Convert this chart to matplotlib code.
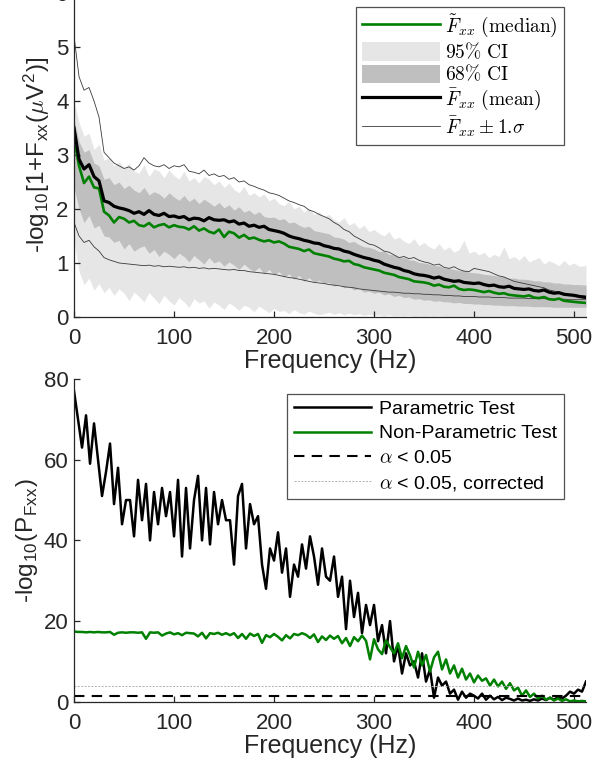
import numpy as np
import matplotlib.pyplot as plt
from matplotlib.patches import Patch
from matplotlib.lines import Line2D

plt.rcParams['font.family'] = ['Liberation Sans', 'DejaVu Sans']
plt.rcParams['mathtext.fontset'] = 'cm'

# ---- top panel data (5 Hz grid, last point 512 Hz) ----
freq_top = np.append(np.arange(0, 510, 5), 512)

mean_fxx = [3.50, 2.92, 2.74, 2.82, 2.60, 2.52, 2.15, 2.12, 2.05, 2.02,
            2.00, 1.97, 1.92, 1.95, 1.90, 1.97, 1.90, 1.88, 1.92, 1.86,
            1.87, 1.84, 1.86, 1.80, 1.83, 1.82, 1.78, 1.84, 1.80, 1.79,
            1.80, 1.76, 1.78, 1.72, 1.74, 1.68, 1.70, 1.66, 1.68, 1.62,
            1.60, 1.58, 1.55, 1.50, 1.47, 1.45, 1.42, 1.40, 1.37, 1.36,
            1.32, 1.30, 1.27, 1.26, 1.22, 1.20, 1.16, 1.13, 1.10, 1.08,
            1.05, 1.03, 0.98, 0.95, 0.92, 0.90, 0.86, 0.84, 0.80, 0.78,
            0.77, 0.75, 0.72, 0.74, 0.70, 0.68, 0.66, 0.67, 0.64, 0.63,
            0.62, 0.63, 0.60, 0.58, 0.59, 0.56, 0.55, 0.57, 0.53, 0.52,
            0.51, 0.52, 0.49, 0.48, 0.50, 0.46, 0.44, 0.45, 0.42, 0.41,
            0.40, 0.38, 0.36]

median_fxx = [3.30, 2.80, 2.48, 2.60, 2.40, 2.38, 1.95, 1.88, 1.75, 1.85,
              1.82, 1.75, 1.78, 1.70, 1.68, 1.74, 1.66, 1.70, 1.72, 1.66,
              1.70, 1.67, 1.66, 1.62, 1.68, 1.60, 1.64, 1.58, 1.55, 1.62,
              1.48, 1.58, 1.55, 1.47, 1.52, 1.45, 1.47, 1.43, 1.40, 1.42,
              1.38, 1.40, 1.36, 1.30, 1.28, 1.26, 1.22, 1.25, 1.18, 1.16,
              1.14, 1.12, 1.08, 1.06, 1.03, 1.04, 0.98, 0.96, 0.92, 0.90,
              0.88, 0.86, 0.82, 0.80, 0.78, 0.74, 0.72, 0.70, 0.66, 0.65,
              0.64, 0.62, 0.58, 0.60, 0.56, 0.55, 0.58, 0.52, 0.50, 0.51,
              0.50, 0.48, 0.46, 0.48, 0.45, 0.43, 0.44, 0.41, 0.40, 0.39,
              0.38, 0.40, 0.36, 0.35, 0.37, 0.33, 0.32, 0.34, 0.30, 0.29,
              0.28, 0.27, 0.26]

sd_upper = [5.20, 4.45, 4.20, 4.25, 4.00, 3.70, 3.05, 2.95, 2.85, 2.80,
            2.75, 2.78, 2.72, 2.80, 2.95, 2.85, 2.80, 2.78, 2.82, 2.75,
            2.80, 2.78, 2.82, 2.70, 2.68, 2.65, 2.72, 2.62, 2.65, 2.60,
            2.62, 2.55, 2.58, 2.50, 2.52, 2.45, 2.42, 2.38, 2.35, 2.30,
            2.28, 2.25, 2.20, 2.15, 2.12, 2.08, 2.05, 1.98, 1.95, 1.90,
            1.86, 1.82, 1.75, 1.70, 1.62, 1.58, 1.50, 1.45, 1.40, 1.35,
            1.33, 1.28, 1.22, 1.20, 1.15, 1.10, 1.12, 1.08, 1.10, 1.05,
            1.02, 1.00, 0.96, 0.98, 0.92, 0.90, 0.93, 0.88, 0.85, 0.84,
            0.90, 0.88, 0.86, 0.84, 0.80, 0.76, 0.74, 0.70, 0.66, 0.64,
            0.62, 0.60, 0.58, 0.56, 0.54, 0.50, 0.48, 0.46, 0.44, 0.42,
            0.42, 0.40, 0.39]

sd_lower = [1.75, 1.50, 1.38, 1.42, 1.30, 1.22, 1.10, 1.06, 1.03, 1.00,
            0.99, 0.98, 0.97, 0.96, 0.95, 0.96, 0.94, 0.95, 0.93, 0.94,
            0.93, 0.92, 0.93, 0.91, 0.92, 0.90, 0.91, 0.89, 0.90, 0.89,
            0.88, 0.87, 0.88, 0.86, 0.86, 0.84, 0.83, 0.82, 0.81, 0.80,
            0.79, 0.77, 0.75, 0.73, 0.72, 0.70, 0.68, 0.66, 0.64, 0.63,
            0.62, 0.60, 0.59, 0.58, 0.56, 0.55, 0.54, 0.52, 0.51, 0.50,
            0.49, 0.48, 0.47, 0.46, 0.46, 0.45, 0.44, 0.44, 0.43, 0.43,
            0.42, 0.42, 0.41, 0.41, 0.40, 0.40, 0.39, 0.39, 0.38, 0.38,
            0.38, 0.37, 0.37, 0.37, 0.36, 0.36, 0.36, 0.35, 0.35, 0.35,
            0.35, 0.34, 0.34, 0.34, 0.34, 0.33, 0.33, 0.33, 0.33, 0.32,
            0.32, 0.32, 0.32]

ci95_upper = [4.00, 3.60, 3.35, 3.40, 3.10, 3.20, 2.90, 2.95, 2.80, 2.88,
              2.75, 2.85, 2.70, 2.66, 2.82, 2.60, 2.74, 2.70, 2.58, 2.72,
              2.62, 2.55, 2.70, 2.52, 2.58, 2.48, 2.60, 2.55, 2.45, 2.52,
              2.40, 2.48, 2.36, 2.30, 2.42, 2.25, 2.30, 2.22, 2.28, 2.15,
              2.20, 2.10, 2.06, 2.14, 2.00, 2.05, 1.94, 2.02, 1.90, 1.95,
              1.86, 1.90, 1.80, 1.76, 1.84, 1.70, 1.75, 1.64, 1.70, 1.58,
              1.62, 1.55, 1.50, 1.58, 1.44, 1.48, 1.40, 1.36, 1.45, 1.32,
              1.38, 1.30, 1.26, 1.36, 1.24, 1.30, 1.20, 1.25, 1.42, 1.18,
              1.22, 1.15, 1.20, 1.10, 1.16, 1.12, 1.30, 1.08, 1.12, 1.05,
              1.14, 1.02, 1.06, 1.10, 0.98, 1.04, 1.00, 0.95, 1.05, 0.96,
              1.00, 0.94, 0.95]

ci95_lower = [1.40, 0.85, 0.60, 0.72, 0.50, 0.62, 0.45, 0.55, 0.40, 0.52,
              0.44, 0.30, 0.46, 0.38, 0.28, 0.45, 0.35, 0.25, 0.40, 0.30,
              0.22, 0.36, 0.28, 0.18, 0.34, 0.26, 0.30, 0.16, 0.28, 0.22,
              0.14, 0.26, 0.20, 0.12, 0.22, 0.18, 0.10, 0.20, 0.14, 0.08,
              0.16, 0.10, 0.12, 0.06, 0.14, 0.08, 0.05, 0.11, 0.07, 0.04,
              0.06, 0.09, 0.05, 0.08, 0.04, 0.07, 0.04, 0.06, 0.03, 0.05,
              0.03, 0.04, 0.02, 0.04, 0.02, 0.03, 0.02, 0.03, 0.01, 0.02,
              0.01, 0.02, 0.01, 0.02, 0.01, 0.01, 0.01, 0.01, 0.01, 0.01,
              0.01, 0.01, 0.01, 0.01, 0.01, 0.01, 0.01, 0.01, 0.01, 0.01,
              0.01, 0.01, 0.01, 0.01, 0.01, 0.01, 0.01, 0.01, 0.01, 0.01,
              0.01, 0.01, 0.01]

ci68_upper = [3.65, 3.25, 3.05, 3.10, 2.85, 2.80, 2.55, 2.58, 2.45, 2.50,
              2.38, 2.44, 2.35, 2.30, 2.40, 2.26, 2.32, 2.28, 2.20, 2.30,
              2.22, 2.16, 2.25, 2.14, 2.20, 2.10, 2.18, 2.12, 2.05, 2.12,
              2.02, 2.08, 1.98, 2.04, 1.94, 1.98, 1.90, 1.95, 1.86, 1.84,
              1.85, 1.80, 1.82, 1.74, 1.76, 1.70, 1.66, 1.68, 1.60, 1.58,
              1.56, 1.54, 1.48, 1.47, 1.44, 1.38, 1.40, 1.34, 1.30, 1.29,
              1.26, 1.21, 1.22, 1.16, 1.15, 1.10, 1.11, 1.06, 1.05, 1.01,
              1.00, 0.98, 0.95, 0.95, 0.91, 0.90, 0.88, 0.86, 0.86, 0.83,
              0.82, 0.81, 0.79, 0.78, 0.77, 0.75, 0.75, 0.72, 0.72, 0.70,
              0.70, 0.69, 0.67, 0.67, 0.65, 0.65, 0.63, 0.63, 0.61, 0.61,
              0.60, 0.60, 0.59]

ci68_lower = [2.40, 2.00, 1.75, 1.88, 1.65, 1.70, 1.50, 1.48, 1.38, 1.42,
              1.26, 1.36, 1.22, 1.28, 1.32, 1.18, 1.25, 1.12, 1.22, 1.16,
              1.08, 1.18, 1.12, 1.02, 1.14, 1.06, 0.98, 1.10, 1.00, 1.04,
              0.94, 1.02, 0.96, 0.88, 0.98, 0.90, 0.84, 0.92, 0.80, 0.88,
              0.78, 0.84, 0.74, 0.80, 0.70, 0.77, 0.66, 0.73, 0.64, 0.68,
              0.62, 0.64, 0.57, 0.61, 0.54, 0.56, 0.50, 0.53, 0.46, 0.48,
              0.44, 0.46, 0.41, 0.43, 0.38, 0.40, 0.36, 0.37, 0.33, 0.34,
              0.31, 0.32, 0.29, 0.30, 0.28, 0.28, 0.26, 0.27, 0.25, 0.25,
              0.24, 0.24, 0.23, 0.23, 0.22, 0.22, 0.21, 0.21, 0.21, 0.20,
              0.20, 0.20, 0.19, 0.19, 0.19, 0.19, 0.18, 0.18, 0.18, 0.18,
              0.18, 0.18, 0.18]

# ---- bottom panel data (4 Hz grid) ----
freq_bot = np.arange(0, 513, 4)

p_parametric = [77, 70, 63, 71, 59, 69, 60, 51,
                57, 64, 49, 58, 44, 50, 50, 41,
                55, 45, 54, 40, 52, 44, 53, 46,
                52, 41, 55, 36, 53, 38, 50, 56,
                40, 53, 39, 52, 44, 50, 45, 45,
                34, 51, 54, 38, 49, 44, 46, 34,
                28, 38, 35, 42, 32, 38, 26, 34,
                31, 39, 33, 41, 36, 29, 38, 31,
                30, 36, 26, 31, 18, 30, 21, 27,
                17, 24, 19, 24, 15, 19, 12, 20,
                10, 14, 7, 12, 9, 10, 6, 12,
                5, 8, 1, 6, 4, 5, 2, 3,
                0.5, 2.5, 1, 2, 1.5, 0.8, 2, 0.5,
                1.5, 0.6, 1.2, 0.4, 1, 0.7, 0.3, 0.8,
                0.3, 0.5, 0.2, 0.6, 0.3, 0.8, 0.4, 1,
                0.5, 1.2, 0.8, 1.5, 2.5, 2, 3, 2.5,
                5]

p_nonparametric = [17.4, 17.3, 17.3, 17.2, 17.3, 17.2, 17.3, 17.2,
                   17.2, 17.3, 16.6, 17.1, 17.2, 17.1, 17.2, 17.2,
                   17.1, 17.2, 15.6, 17.2, 17.1, 17.2, 16.4, 16.9,
                   17.2, 16.7, 17.0, 16.5, 17.1, 17.0, 16.9, 16.2,
                   17.1, 15.7, 17.0, 16.8, 17.1, 16.6, 17.0, 16.5,
                   17.0, 15.8, 16.8, 15.6, 16.9, 16.3, 16.8, 14.6,
                   16.5, 16.0, 16.8, 16.1, 15.2, 16.5, 15.7, 16.8,
                   16.5, 17.0, 16.6, 15.8, 16.7, 14.8, 16.2, 15.3,
                   16.4, 15.6, 16.3, 14.5, 15.8, 13.8, 16.0, 15.0,
                   16.4, 15.1, 10.5, 15.5, 13.0, 11.8, 15.2, 13.5,
                   12.0, 14.5, 10.8, 13.8, 11.5, 8.5, 12.4, 9.0,
                   11.6, 7.5, 11.0, 12.4, 8.0, 10.5, 7.0, 9.0,
                   6.0, 8.2, 5.5, 7.0, 4.8, 6.5, 5.2, 5.8,
                   4.0, 5.5, 3.8, 5.0, 3.2, 4.6, 2.8, 3.5,
                   1.5, 2.8, 1.2, 2.0, 0.8, 1.5, 0.5, 1.0,
                   0.3, 0.8, 0.2, 0.6, 0.1, 0.3, 0.1, 0.2,
                   0.1]

alpha = 0.05
n_tests = 512

green = '#008000'
axcol = '#262626'

fig = plt.figure(figsize=(5.97, 7.64), dpi=100)

# ================= top panel =================
ax1 = fig.add_axes([0.124, 0.5851, 0.8576, 0.4241])
ax1.fill_between(freq_top, ci95_lower, ci95_upper, color='#e6e6e6', lw=0)
ax1.fill_between(freq_top, ci68_lower, ci68_upper, color='#bfbfbf', lw=0)
ax1.plot(freq_top, sd_upper, color='#3a3a3a', lw=0.6)
ax1.plot(freq_top, sd_lower, color='#3a3a3a', lw=0.6)
ax1.plot(freq_top, median_fxx, color=green, lw=1.9)
ax1.plot(freq_top, mean_fxx, color='black', lw=2.3)

ax1.set_xlim(0, 512)
ax1.set_ylim(0, 6)
ax1.set_xticks([0, 100, 200, 300, 400, 500])
ax1.set_yticks([0, 1, 2, 3, 4, 5, 6])
ax1.set_xlabel('Frequency (Hz)', fontsize=18, color=axcol, labelpad=0)
ax1.set_ylabel(r'-log$_{\mathdefault{10}}$[1+F$_{\mathdefault{xx}}$($\mu$V$^{\mathdefault{2}}$)]',
               fontsize=17.5, color=axcol, labelpad=3)

handles1 = [Line2D([], [], color=green, lw=1.9),
            Patch(facecolor='#e6e6e6', edgecolor='none'),
            Patch(facecolor='#bfbfbf', edgecolor='none'),
            Line2D([], [], color='black', lw=2.3),
            Line2D([], [], color='#3a3a3a', lw=0.6)]
labels1 = [r'$\tilde{F}_{xx}\ \mathrm{(median)}$',
           r'$\mathrm{95\%\ CI}$',
           r'$\mathrm{68\%\ CI}$',
           r'$\bar{F}_{xx}\ \mathrm{(mean)}$',
           r'$\bar{F}_{xx} \pm 1.\!\sigma$']
leg1 = ax1.legend(handles1, labels1, loc='upper right', bbox_to_anchor=(0.957, 0.958),
                  fontsize=14, frameon=True, fancybox=False, handlelength=4.0,
                  handleheight=1.1, labelspacing=0.12, handletextpad=0.3,
                  borderpad=0.3, borderaxespad=0)
leg1.get_frame().set_edgecolor(axcol)
leg1.get_frame().set_linewidth(0.9)

# ================= bottom panel =================
ax2 = fig.add_axes([0.124, 0.0815, 0.8576, 0.4224])
ax2.plot(freq_bot, p_parametric, color='black', lw=1.8, label='Parametric Test')
ax2.plot(freq_bot, p_nonparametric, color=green, lw=1.8, label='Non-Parametric Test')
ax2.axhline(-np.log10(alpha), color='black', lw=1.5, ls=(0, (5, 3.5)),
            label=r'$\alpha$ < 0.05')
ax2.axhline(-np.log10(alpha / n_tests), color='#b0b0b0', lw=0.7, ls=(0, (2, 1.5)),
            label=r'$\alpha$ < 0.05, corrected')

ax2.set_xlim(0, 512)
ax2.set_ylim(0, 80)
ax2.set_xticks([0, 100, 200, 300, 400, 500])
ax2.set_yticks([0, 20, 40, 60, 80])
ax2.set_xlabel('Frequency (Hz)', fontsize=18, color=axcol, labelpad=0)
ax2.set_ylabel(r'-log$_{\mathdefault{10}}$(P$_{\mathdefault{Fxx}}$)', fontsize=17.5,
               color=axcol, labelpad=3)

leg2 = ax2.legend(loc='upper right', bbox_to_anchor=(0.957, 0.955), fontsize=14,
                  frameon=True, fancybox=False, handlelength=4.0,
                  labelspacing=0.35, handletextpad=0.4, borderpad=0.35,
                  borderaxespad=0)
leg2.get_frame().set_edgecolor(axcol)
leg2.get_frame().set_linewidth(0.9)

for ax in (ax1, ax2):
    ax.spines['top'].set_visible(False)
    ax.spines['right'].set_visible(False)
    for s in ('left', 'bottom'):
        ax.spines[s].set_color(axcol)
        ax.spines[s].set_linewidth(0.9)
    ax.tick_params(direction='in', length=4, width=0.9, colors=axcol,
                   labelsize=16)
    ax.tick_params(axis='x', pad=8)
    ax.tick_params(axis='y', pad=4)

fig.savefig('out.png', dpi=100)
